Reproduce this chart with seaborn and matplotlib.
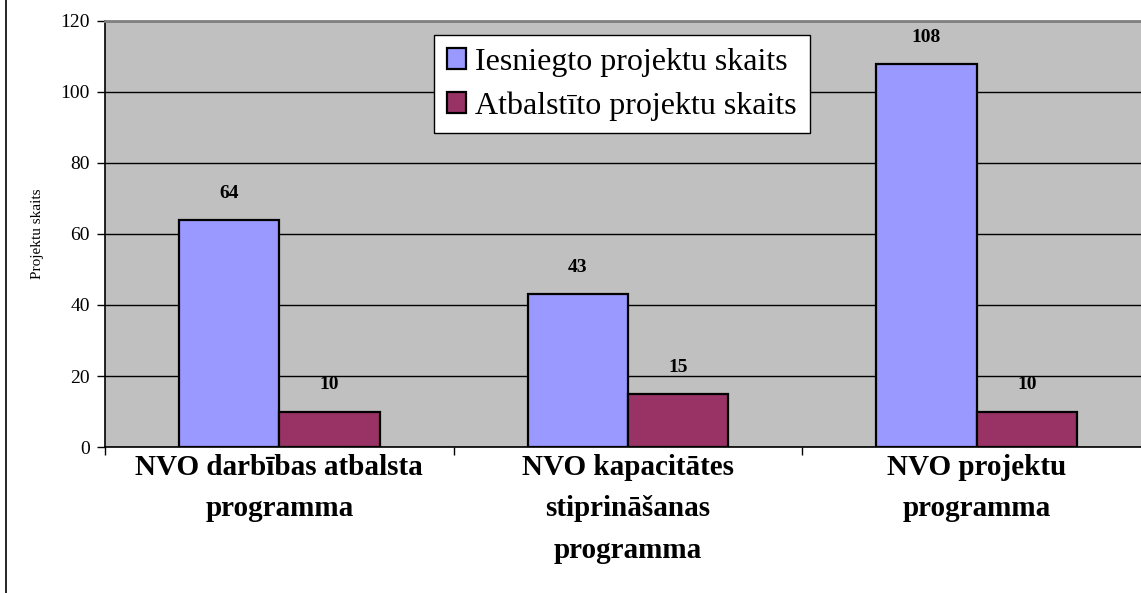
import matplotlib
matplotlib.use("Agg")
import matplotlib.pyplot as plt
import seaborn as sns
import pandas as pd

categories = ["NVO darbības atbalsta\nprogramma",
              "NVO kapacitātes\nstiprināšanas\nprogramma",
              "NVO projektu\nprogramma"]
series_names = ["Iesniegto projektu skaits", "Atbalstīto projektu skaits"]
submitted = [64, 43, 108]
supported = [10, 15, 10]
y_ticks = [0, 20, 40, 60, 80, 100, 120]

df = pd.DataFrame({
    "cat": categories * 2,
    "series": [series_names[0]] * 3 + [series_names[1]] * 3,
    "value": submitted + supported,
})

sns.set_theme(style="white")
plt.rcParams['font.family'] = ['Liberation Serif', 'DejaVu Serif']
for k in ["text.color", "axes.labelcolor", "xtick.color", "ytick.color"]:
    plt.rcParams[k] = "black"

fig = plt.figure(figsize=(11.41, 5.93), dpi=100)
ax = fig.add_axes([0.092, 0.2462, 0.9167, 0.7184])
ax.set_facecolor("#C0C0C0")

sns.barplot(data=df, x="cat", y="value", hue="series", order=categories,
            hue_order=series_names, palette=["#9999FF", "#993366"],
            width=0.575, edgecolor="black", linewidth=1.6, saturation=1,
            ax=ax, zorder=3)

ax.set_ylim(0, 120)
ax.set_xlim(-0.5, 2.5)
ax.set_yticks(y_ticks)
ax.set_yticklabels([str(t) for t in y_ticks], fontsize=14)
ax.yaxis.grid(True, color="black", linewidth=1, zorder=0)
ax.set_axisbelow(True)
ax.tick_params(axis="y", direction="out", length=6, width=1, color="black", left=True, pad=5)

ax.set_xticks([0, 1, 2])
ax.set_xticklabels(categories, fontsize=21, fontweight="bold", linespacing=1.68)
ax.set_xticks([-0.5, 0.5, 1.5], minor=True)
ax.tick_params(axis="x", which="major", length=0, pad=5)
ax.tick_params(axis="x", which="minor", direction="out", length=6, width=1, color="black", bottom=True)

ax.set_xlabel("")
ax.set_ylabel("Projektu skaits", fontsize=11, labelpad=12)

for side in ["left", "bottom"]:
    ax.spines[side].set_visible(True)
    ax.spines[side].set_color("black")
    ax.spines[side].set_linewidth(1.2)
ax.spines["top"].set_color("#808080")
ax.spines["top"].set_linewidth(2)
ax.spines["right"].set_visible(False)

for cont in ax.containers:
    ax.bar_label(cont, labels=[f"{v:.0f}" for v in cont.datavalues],
                 padding=13, fontsize=14, fontweight="bold", color="black")

leg = ax.legend(loc="upper left", bbox_to_anchor=(0.3145, 0.967), fontsize=23,
                frameon=True, fancybox=False, edgecolor="black", framealpha=1,
                handlelength=0.6, handleheight=0.6, handletextpad=0.3,
                borderpad=0.4, labelspacing=0.45, borderaxespad=0)
leg.get_frame().set_linewidth(1)

fig.add_artist(plt.Line2D([0.005, 0.005], [0, 1], color="black", linewidth=1.2,
                          transform=fig.transFigure))

fig.savefig("out.png", dpi=100, facecolor="white")
